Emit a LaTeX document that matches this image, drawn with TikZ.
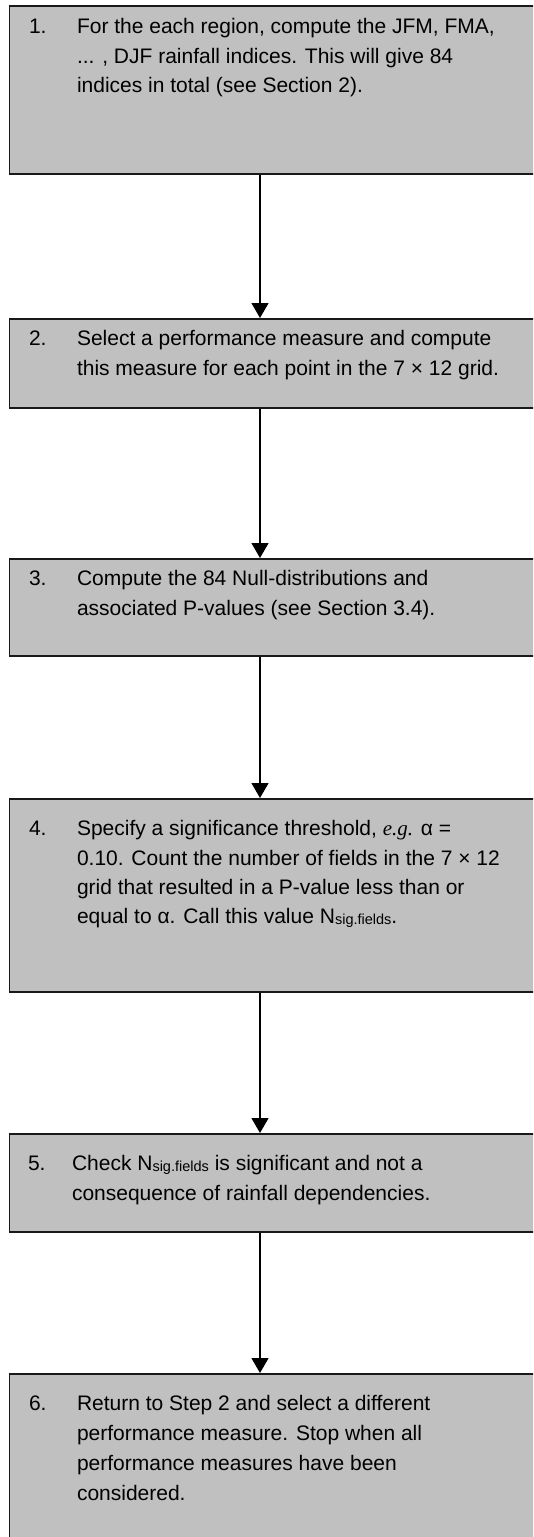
\documentclass[tikz,border=0pt]{standalone}
\usepackage{fontspec}
\setmainfont{Liberation Sans}
\newfontfamily\egfont{Liberation Serif}
\usetikzlibrary{arrows.meta}
\definecolor{boxgray}{RGB}{192,192,192}
\definecolor{edgegray}{RGB}{25,25,25}
\tikzset{
  stepbox/.style={draw=edgegray, line width=1.5pt, fill=boxgray, rectangle, inner sep=0pt, anchor=north west, minimum width=540pt},
  txt/.style={anchor=base west, inner sep=0pt, outer sep=0pt, font=\fontsize{21}{29.5}\selectfont},
  arr/.style={draw=black, line width=1.3pt, -{Triangle[width=17pt,length=15pt]}}
}
\newcommand{\Nsig}{N\raisebox{-1.5pt}{\fontsize{14.5}{15}\selectfont sig.fields}}
\begin{document}
\begin{tikzpicture}[x=1pt,y=-1pt]
\useasboundingbox (0,0) rectangle (533,1537);
\clip (0,0) rectangle (533,1537);
\coordinate (ax) at (260,0);
% boxes
\node[stepbox, minimum height=168pt] (b1) at (8.5,5) {};
\node[stepbox, minimum height=89pt]  (b2) at (8.5,318) {};
\node[stepbox, minimum height=97pt]  (b3) at (8.5,558) {};
\node[stepbox, minimum height=193pt] (b4) at (8.5,798) {};
\node[stepbox, minimum height=98pt]  (b5) at (8.5,1133) {};
\node[stepbox, minimum height=190pt] (b6) at (8.5,1373) {};
% box 1
\node[txt] (n1) at (29,33) {1.};
\node[txt] (t1a) at (77,33) {For the each region, compute the JFM, FMA,};
\node[txt] (t1b) at (77,63) {... , DJF rainfall indices. This will give 84};
\node[txt] (t1c) at (77,92) {indices in total (see Section 2).};
% box 2
\node[txt] (n2) at (29,345) {2.};
\node[txt] (t2a) at (77,345) {Select a performance measure and compute};
\node[txt] (t2b) at (77,375) {this measure for each point in the 7 × 12 grid.};
% box 3
\node[txt] (n3) at (29,585) {3.};
\node[txt] (t3a) at (77,585) {Compute the 84 Null-distributions and};
\node[txt] (t3b) at (77,615) {associated P-values (see Section 3.4).};
% box 4
\node[txt] (n4) at (29,835) {4.};
\node[txt] (t4a) at (77,835) {Specify a significance threshold, {\egfont\itshape e.g.} α =};
\node[txt] (t4b) at (77,865) {0.10. Count the number of fields in the 7 × 12};
\node[txt] (t4c) at (77,894) {grid that resulted in a P-value less than or};
\node[txt] (t4d) at (77,923) {equal to α. Call this value \Nsig.};
% box 5
\node[txt] (n5) at (28,1170) {5.};
\node[txt] (t5a) at (72,1170) {Check \Nsig{} is significant and not a};
\node[txt] (t5b) at (72,1200) {consequence of rainfall dependencies.};
% box 6
\node[txt] (n6) at (29,1410) {6.};
\node[txt] (t6a) at (77,1410) {Return to Step 2 and select a different};
\node[txt] (t6b) at (77,1440) {performance measure. Stop when all};
\node[txt] (t6c) at (77,1470) {performance measures have been};
\node[txt] (t6d) at (77,1500) {considered.};
% connectors
\draw[arr] (b1.south -| ax) -- (b2.north -| ax);
\draw[arr] (b2.south -| ax) -- (b3.north -| ax);
\draw[arr] (b3.south -| ax) -- (b4.north -| ax);
\draw[arr] (b4.south -| ax) -- (b5.north -| ax);
\draw[arr] (b5.south -| ax) -- (b6.north -| ax);
\end{tikzpicture}
\end{document}
